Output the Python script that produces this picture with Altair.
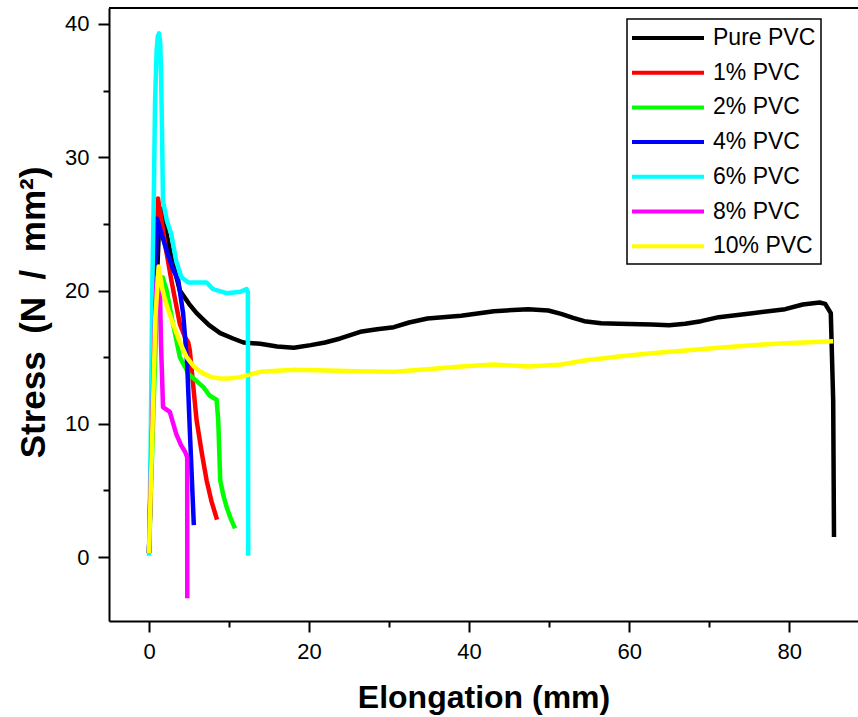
import altair as alt
import pandas as pd

series_names = ["Pure PVC", "1% PVC", "2% PVC", "4% PVC", "6% PVC", "8% PVC", "10% PVC"]
series_colors = ["#000000", "#ff0000", "#00ff00", "#0000ff", "#00ffff", "#ff00ff", "#ffff00"]

pure_x = [0, 0.3, 0.8, 1.2, 1.55, 2.0, 2.8, 3.85, 5.0, 5.95, 7.5, 8.9, 10.5, 11.8, 13.9, 16, 18.1,
          20.2, 22, 23.9, 26.4, 28.5, 30.6, 32.5, 34.8, 39.0, 43.1, 47.4, 49.9, 51.5, 53, 54.4, 56.5,
          58.7, 62.8, 65, 67.0, 69, 71.2, 75.4, 79.5, 81.7, 83.8, 84.5, 85.2, 85.5, 85.6]
pure_y = [0.3, 8, 18, 24, 26.1, 24.8, 22.5, 20.0, 19.0, 18.3, 17.4, 16.8, 16.4, 16.1, 16.0, 15.8, 15.7,
          15.9, 16.1, 16.4, 16.9, 17.1, 17.25, 17.6, 17.9, 18.1, 18.45, 18.6, 18.5, 18.25, 17.95, 17.7, 17.55,
          17.5, 17.45, 17.4, 17.5, 17.7, 18.0, 18.3, 18.6, 18.95, 19.1, 19.0, 18.3, 11.75, 1.5]

p1_x = [0, 0.5, 0.9, 1.13, 1.5, 2.0, 2.8, 3.85, 4.5, 4.9, 5.1, 5.5, 5.95, 6.6, 7.2, 7.8, 8.5]
p1_y = [0.3, 12, 24, 26.9, 25.5, 23.5, 20.75, 17.5, 16.5, 16.1, 15.5, 13, 10.25, 7.8, 5.75, 4.2, 2.8]

p2_x = [0, 0.6, 1.0, 1.3, 1.7, 2.2, 3.0, 3.85, 5.0, 6.8, 7.6, 8.45, 8.65, 8.9, 9.3, 9.7, 10.2, 10.75]
p2_y = [0.3, 12, 19, 21.0, 21, 20, 17.5, 15.0, 13.7, 12.75, 12.1, 11.8, 10.25, 5.75, 4.6, 3.75, 2.9, 2.15]

p4_x = [0, 0.5, 1.0, 1.6, 2.3, 3.0, 3.66, 4.27, 4.77, 5.1, 5.6]
p4_y = [0.3, 14, 25.4, 24.2, 22.8, 21.6, 20.75, 18.25, 14.5, 9.5, 2.4]

p6_x = [0, 0.2, 0.42, 0.6, 0.75, 0.95, 1.1, 1.25, 1.4, 1.5, 1.6, 1.75, 2.25, 2.8, 3.4, 4.05, 4.9, 6.0, 7.2,
        8.0, 9.7, 11.4, 12.2, 12.35, 12.4]
p6_y = [0.1, 8, 20.7, 27, 34, 38.0, 39.1, 39.3, 38.6, 36.5, 33.0, 26.7, 25.2, 24.2, 22.2, 21, 20.6, 20.6, 20.6,
        20.1, 19.8, 19.9, 20.1, 19.9, 0.1]

p8_x = [0, 0.4, 0.8, 1.0, 1.35, 1.5, 1.75, 2.6, 3.4, 4.0, 4.5, 4.77, 4.78]
p8_y = [0.3, 10, 19, 21, 20.75, 16, 11.25, 10.9, 9.25, 8.4, 7.9, 7.5, -3.1]

p10_x = [0, 0.4, 0.8, 1.2, 1.7, 2.3, 3.0, 3.8, 4.7, 5.6, 6.7, 7.8, 8.9, 10, 11.4, 13.9, 18.1, 22.3,
         26, 30.6, 34.8, 39, 43.1, 47.4, 51.5, 54.4, 58.7, 62.8, 67, 71.2, 75.4, 79.5, 85.5]
p10_y = [0.3, 9, 18, 21.8, 20, 18.7, 17.5, 16.2, 15.0, 14.3, 13.8, 13.5, 13.4, 13.4, 13.5, 13.9, 14.05, 14.0,
         13.95, 13.9, 14.1, 14.3, 14.45, 14.3, 14.45, 14.75, 15.05, 15.3, 15.5, 15.7, 15.9, 16.05, 16.2]

all_x = [pure_x, p1_x, p2_x, p4_x, p6_x, p8_x, p10_x]
all_y = [pure_y, p1_y, p2_y, p4_y, p6_y, p8_y, p10_y]

rows = []
for name, xs, ys in zip(series_names, all_x, all_y):
    for i, (xv, yv) in enumerate(zip(xs, ys)):
        rows.append({"series": name, "x": xv, "y": yv, "idx": i})
df = pd.DataFrame(rows)

x_ticks = [0, 10, 20, 30, 40, 50, 60, 70, 80]
y_ticks = [0, 5, 10, 15, 20, 25, 30, 35, 40]

W = 749
H = 613
FONT = "Liberation Sans"

lines = alt.Chart(df).mark_line(strokeWidth=4.5, clip=True, strokeJoin="round", strokeCap="butt").encode(
    x=alt.X("x:Q", scale=alt.Scale(domain=[-5, 88.6], nice=False, zero=False),
            axis=alt.Axis(values=x_ticks, title="Elongation (mm)",
                          labelExpr="datum.value % 20 === 0 ? datum.label : ''",
                          tickSize={"condition": {"test": "datum.value % 20 === 0", "value": 11}, "value": 6},
                          titleY=86, titleBaseline="alphabetic")),
    y=alt.Y("y:Q", scale=alt.Scale(domain=[-4.8, 41.2], nice=False, zero=False),
            axis=alt.Axis(values=y_ticks, title="Stress\u2002(N\u2002/\u2002mm²)",
                          labelExpr="datum.value % 10 === 0 ? datum.label : ''",
                          tickSize={"condition": {"test": "datum.value % 10 === 0", "value": 11}, "value": 6},
                          titleX=-65, titleY=304, titleBaseline="alphabetic", titleAngle=270,
                          titleFontSize=35)),
    color=alt.Color("series:N", scale=alt.Scale(domain=series_names, range=series_colors),
                    legend=alt.Legend(title=None, orient="none", legendX=518, legendY=11,
                                      symbolType="M-3,0H3", symbolSize=576, symbolStrokeWidth=4,
                                      symbolOffset=22,
                                      labelFont=FONT, labelFontSize=23, labelColor="#000000",
                                      labelOffset=31, rowPadding=8.7, padding=5,
                                      strokeColor="#000000", symbolOpacity=1)),
    order=alt.Order("idx:Q"),
    detail="series:N",
)

top_rule = alt.Chart(pd.DataFrame({"a": [0]})).mark_rule(color="#000000", strokeWidth=2).encode(
    x=alt.value(0), x2=alt.value(W), y=alt.value(0)
)

chart = alt.layer(lines, top_rule).properties(
    width=W, height=H,
    autosize=alt.AutoSizeParams(type="none"),
    padding={"left": 109, "top": 8, "right": 0, "bottom": 96},
).configure_view(stroke=None).configure_axis(
    grid=False, domainColor="#000000", domainWidth=2, tickColor="#000000", tickWidth=2,
    labelFont=FONT, labelFontSize=22, labelColor="#000000", labelPadding=9,
    titleFont=FONT, titleFontSize=32, titleFontWeight="bold", titleColor="#000000",
).configure_legend(strokeWidth=1.5)

chart.save("out.html", embed_options={"renderer": "svg", "actions": False})
